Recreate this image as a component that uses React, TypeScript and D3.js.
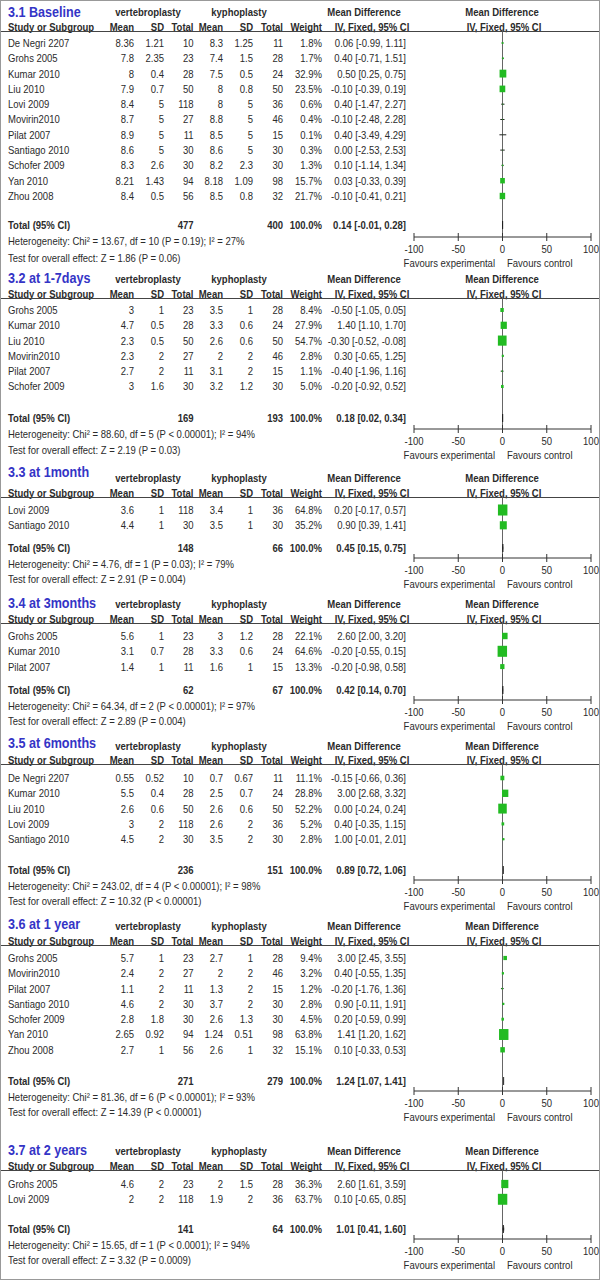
import React from "react";
import * as d3 from "d3";

const SX = 0.85;
const FONT = "'Liberation Sans', Arial, Helvetica, sans-serif";
const TEXT = "#2b2b2b";
const BLUE = "#3434c6";
const GREEN = "#22bb22";

const panelTitles = ["3.1 Baseline", "3.2 at 1-7days", "3.3 at 1month", "3.4 at 3months", "3.5 at 6months", "3.6 at 1 year", "3.7 at 2 years"];
const groupLabels = ["vertebroplasty", "kyphoplasty"];
const colHeaders = ["Mean", "SD", "Total", "Mean", "SD", "Total", "Weight"];
const axisTicks = [-100, -50, 0, 50, 100];
const favourLabels = ["Favours experimental", "Favours control"];

// study, mean1, sd1, total1, mean2, sd2, total2, weight %, MD, lower, upper
const rows31 = [
  ["De Negri 2207", "8.36", "1.21", 10, "8.3", "1.25", 11, 1.8, 0.06, -0.99, 1.11],
  ["Grohs 2005", "7.8", "2.35", 23, "7.4", "1.5", 28, 1.7, 0.4, -0.71, 1.51],
  ["Kumar 2010", "8", "0.4", 28, "7.5", "0.5", 24, 32.9, 0.5, 0.25, 0.75],
  ["Liu 2010", "7.9", "0.7", 50, "8", "0.8", 50, 23.5, -0.1, -0.39, 0.19],
  ["Lovi 2009", "8.4", "5", 118, "8", "5", 36, 0.6, 0.4, -1.47, 2.27],
  ["Movirin2010", "8.7", "5", 27, "8.8", "5", 46, 0.4, -0.1, -2.48, 2.28],
  ["Pilat 2007", "8.9", "5", 11, "8.5", "5", 15, 0.1, 0.4, -3.49, 4.29],
  ["Santiago 2010", "8.6", "5", 30, "8.6", "5", 30, 0.3, 0.0, -2.53, 2.53],
  ["Schofer 2009", "8.3", "2.6", 30, "8.2", "2.3", 30, 1.3, 0.1, -1.14, 1.34],
  ["Yan 2010", "8.21", "1.43", 94, "8.18", "1.09", 98, 15.7, 0.03, -0.33, 0.39],
  ["Zhou 2008", "8.4", "0.5", 56, "8.5", "0.8", 32, 21.7, -0.1, -0.41, 0.21],
];
const rows32 = [
  ["Grohs 2005", "3", "1", 23, "3.5", "1", 28, 8.4, -0.5, -1.05, 0.05],
  ["Kumar 2010", "4.7", "0.5", 28, "3.3", "0.6", 24, 27.9, 1.4, 1.1, 1.7],
  ["Liu 2010", "2.3", "0.5", 50, "2.6", "0.6", 50, 54.7, -0.3, -0.52, -0.08],
  ["Movirin2010", "2.3", "2", 27, "2", "2", 46, 2.8, 0.3, -0.65, 1.25],
  ["Pilat 2007", "2.7", "2", 11, "3.1", "2", 15, 1.1, -0.4, -1.96, 1.16],
  ["Schofer 2009", "3", "1.6", 30, "3.2", "1.2", 30, 5.0, -0.2, -0.92, 0.52],
];
const rows33 = [
  ["Lovi 2009", "3.6", "1", 118, "3.4", "1", 36, 64.8, 0.2, -0.17, 0.57],
  ["Santiago 2010", "4.4", "1", 30, "3.5", "1", 30, 35.2, 0.9, 0.39, 1.41],
];
const rows34 = [
  ["Grohs 2005", "5.6", "1", 23, "3", "1.2", 28, 22.1, 2.6, 2.0, 3.2],
  ["Kumar 2010", "3.1", "0.7", 28, "3.3", "0.6", 24, 64.6, -0.2, -0.55, 0.15],
  ["Pilat 2007", "1.4", "1", 11, "1.6", "1", 15, 13.3, -0.2, -0.98, 0.58],
];
const rows35 = [
  ["De Negri 2207", "0.55", "0.52", 10, "0.7", "0.67", 11, 11.1, -0.15, -0.66, 0.36],
  ["Kumar 2010", "5.5", "0.4", 28, "2.5", "0.7", 24, 28.8, 3.0, 2.68, 3.32],
  ["Liu 2010", "2.6", "0.6", 50, "2.6", "0.6", 50, 52.2, 0.0, -0.24, 0.24],
  ["Lovi 2009", "3", "2", 118, "2.6", "2", 36, 5.2, 0.4, -0.35, 1.15],
  ["Santiago 2010", "4.5", "2", 30, "3.5", "2", 30, 2.8, 1.0, -0.01, 2.01],
];
const rows36 = [
  ["Grohs 2005", "5.7", "1", 23, "2.7", "1", 28, 9.4, 3.0, 2.45, 3.55],
  ["Movirin2010", "2.4", "2", 27, "2", "2", 46, 3.2, 0.4, -0.55, 1.35],
  ["Pilat 2007", "1.1", "2", 11, "1.3", "2", 15, 1.2, -0.2, -1.76, 1.36],
  ["Santiago 2010", "4.6", "2", 30, "3.7", "2", 30, 2.8, 0.9, -0.11, 1.91],
  ["Schofer 2009", "2.8", "1.8", 30, "2.6", "1.3", 30, 4.5, 0.2, -0.59, 0.99],
  ["Yan 2010", "2.65", "0.92", 94, "1.24", "0.51", 98, 63.8, 1.41, 1.2, 1.62],
  ["Zhou 2008", "2.7", "1", 56, "2.6", "1", 32, 15.1, 0.1, -0.33, 0.53],
];
const rows37 = [
  ["Grohs 2005", "4.6", "2", 23, "2", "1.5", 28, 36.3, 2.6, 1.61, 3.59],
  ["Lovi 2009", "2", "2", 118, "1.9", "2", 36, 63.7, 0.1, -0.65, 0.85],
];
const panelRows = [rows31, rows32, rows33, rows34, rows35, rows36, rows37];

const totalN1 = [477, 169, 148, 62, 236, 271, 141];
const totalN2 = [400, 193, 66, 67, 151, 279, 64];
const totalMD = [0.14, 0.18, 0.45, 0.42, 0.89, 1.24, 1.01];
const totalLo = [-0.01, 0.02, 0.15, 0.14, 0.72, 1.07, 0.41];
const totalHi = [0.28, 0.34, 0.75, 0.7, 1.06, 1.41, 1.6];
const heterogeneity = [
  "Chi² = 13.67, df = 10 (P = 0.19); I² = 27%",
  "Chi² = 88.60, df = 5 (P < 0.00001); I² = 94%",
  "Chi² = 4.76, df = 1 (P = 0.03); I² = 79%",
  "Chi² = 64.34, df = 2 (P < 0.00001); I² = 97%",
  "Chi² = 243.02, df = 4 (P < 0.00001); I² = 98%",
  "Chi² = 81.36, df = 6 (P < 0.00001); I² = 93%",
  "Chi² = 15.65, df = 1 (P < 0.0001); I² = 94%",
];
const overallEffect = [
  "Z = 1.86 (P = 0.06)",
  "Z = 2.19 (P = 0.03)",
  "Z = 2.91 (P = 0.004)",
  "Z = 2.89 (P = 0.004)",
  "Z = 10.32 (P < 0.00001)",
  "Z = 14.39 (P < 0.00001)",
  "Z = 3.32 (P = 0.0009)",
];

// layout (pixel positions)
const L = [
  { title: 12, h1: 12, h2: 27, first: 43, total: 225, test: 258 },
  { title: 278, h1: 279, h2: 294, first: 310, total: 418, test: 450 },
  { title: 472, h1: 478, h2: 493, first: 510, total: 548, test: 579 },
  { title: 603, h1: 604, h2: 619, first: 636, total: 690, test: 721 },
  { title: 743, h1: 746, h2: 760, first: 778, total: 870, test: 901 },
  { title: 924, h1: 926, h2: 941, first: 958, total: 1081, test: 1112 },
  { title: 1150, h1: 1151, h2: 1166, first: 1184, total: 1229, test: 1260 },
];
const ROW = 15.3;
const colRight = [134, 164, 193.5, 223, 253, 283, 322];
const CI_RIGHT = 406;

const x = d3.scaleLinear().domain([-100, 100]).range([414, 591]);
const boxSize = d3.scaleSqrt().domain([0, 100]).range([0, 13.7]);

const f2 = (v: number) => v.toFixed(2);
const ciText = (m: number, lo: number, hi: number) => `${f2(m)} [${f2(lo)}, ${f2(hi)}]`;

function T({ x, y, children, anchor = "start", bold = false, size = 11.2, fill = TEXT, sx = SX }: any) {
  return (
    <text
      transform={`translate(${x},${y}) scale(${sx},1)`}
      textAnchor={anchor}
      dy="0.35em"
      fontSize={size}
      fontWeight={bold ? "bold" : "normal"}
      fill={fill}
    >
      {children}
    </text>
  );
}

function Panel({ i }: { i: number }) {
  const lay = L[i];
  const rows = panelRows[i];
  const lineY = lay.h2 + 4.5;
  const axisY = lay.test - 21;
  const rowY = (k: number) => lay.first + k * ROW;
  const ty = lay.total;
  const dm = x(totalMD[i]);
  return (
    <g>
      <T x={8} y={lay.title} bold size={14} fill={BLUE} sx={0.9}>{panelTitles[i]}</T>
      <T x={148} y={lay.h1} bold anchor="middle">{groupLabels[0]}</T>
      <T x={239} y={lay.h1} bold anchor="middle">{groupLabels[1]}</T>
      <T x={364} y={lay.h1} bold anchor="middle">Mean Difference</T>
      <T x={502} y={lay.h1} bold anchor="middle">Mean Difference</T>
      <T x={8} y={lay.h2} bold>Study or Subgroup</T>
      {colHeaders.map((h, k) => (
        <T key={k} x={colRight[k]} y={lay.h2} bold anchor="end">{h}</T>
      ))}
      <T x={372} y={lay.h2} bold anchor="middle">IV, Fixed, 95% CI</T>
      <T x={504} y={lay.h2} bold anchor="middle">IV, Fixed, 95% CI</T>
      <line x1={0} x2={600} y1={lineY} y2={lineY} stroke="#444" strokeWidth={1} />
      <line x1={x(0)} x2={x(0)} y1={lineY} y2={axisY} stroke="#666" strokeWidth={1} />
      {rows.map((r: any, k: number) => {
        const y = rowY(k);
        const s = boxSize(r[7]);
        return (
          <g key={k}>
            <T x={8} y={y}>{r[0]}</T>
            {[1, 2, 3, 4, 5, 6].map((c) => (
              <T key={c} x={colRight[c - 1]} y={y} anchor="end">{String(r[c])}</T>
            ))}
            <T x={colRight[6]} y={y} anchor="end">{r[7].toFixed(1) + "%"}</T>
            <T x={CI_RIGHT} y={y} anchor="end">{ciText(r[8], r[9], r[10])}</T>
            <line x1={x(r[9])} x2={x(r[10])} y1={y} y2={y} stroke="#222" strokeWidth={1} />
            <rect x={x(r[8]) - (s * 0.86) / 2} y={y - s / 2} width={s * 0.86} height={s} fill={GREEN} />
          </g>
        );
      })}
      <T x={8} y={ty} bold>Total (95% CI)</T>
      <T x={colRight[2]} y={ty} bold anchor="end">{String(totalN1[i])}</T>
      <T x={colRight[5]} y={ty} bold anchor="end">{String(totalN2[i])}</T>
      <T x={colRight[6]} y={ty} bold anchor="end">100.0%</T>
      <T x={CI_RIGHT} y={ty} bold anchor="end">{ciText(totalMD[i], totalLo[i], totalHi[i])}</T>
      <polygon
        points={`${x(totalLo[i])},${ty} ${dm},${ty - 4} ${x(totalHi[i])},${ty} ${dm},${ty + 4}`}
        fill="#111"
        stroke="#111"
        strokeWidth={0.6}
      />
      <T x={8} y={ty + 16.5}>{"Heterogeneity: " + heterogeneity[i]}</T>
      <T x={8} y={lay.test}>{"Test for overall effect: " + overallEffect[i]}</T>
      <line x1={x(-100)} x2={x(100)} y1={axisY} y2={axisY} stroke="#333" strokeWidth={1} />
      {axisTicks.map((t) => (
        <g key={t}>
          <line x1={x(t)} x2={x(t)} y1={axisY - 4} y2={axisY + 4} stroke="#333" strokeWidth={1} />
          <T x={x(t)} y={axisY + 12} anchor="middle">{String(t)}</T>
        </g>
      ))}
      <T x={495} y={lay.test + 5} anchor="end">{favourLabels[0]}</T>
      <T x={507} y={lay.test + 5}>{favourLabels[1]}</T>
    </g>
  );
}

export default function App() {
  return (
    <svg
      width={600}
      height={1280}
      style={{ position: "absolute", left: 0, top: 0, background: "#fff" }}
      fontFamily={FONT}
    >
      <rect x={0} y={0} width={600} height={1280} fill="#fff" />
      {panelTitles.map((_, i) => (
        <Panel key={i} i={i} />
      ))}
      <rect x={0.5} y={0.5} width={599} height={1279} fill="none" stroke="#999" />
    </svg>
  );
}
